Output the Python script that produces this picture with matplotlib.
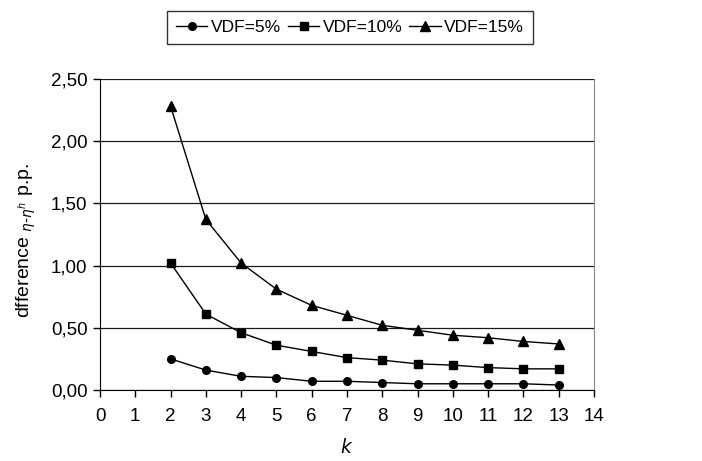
import numpy as np
from matplotlib import pyplot as plt

plt.rcParams['font.family'] = ['Liberation Sans', 'DejaVu Sans']
plt.rcParams['mathtext.fontset'] = 'dejavusans'

k = [2, 3, 4, 5, 6, 7, 8, 9, 10, 11, 12, 13]
vdf5 = [0.25, 0.16, 0.11, 0.10, 0.07, 0.07, 0.06, 0.05, 0.05, 0.05, 0.05, 0.04]
vdf10 = [1.02, 0.61, 0.46, 0.36, 0.31, 0.26, 0.24, 0.21, 0.20, 0.18, 0.17, 0.17]
vdf15 = [2.28, 1.37, 1.02, 0.81, 0.68, 0.60, 0.52, 0.48, 0.44, 0.42, 0.39, 0.37]

yticks = [0.0, 0.5, 1.0, 1.5, 2.0, 2.5]
ytick_labels = ["0,00", "0,50", "1,00", "1,50", "2,00", "2,50"]

fig = plt.figure(figsize=(7.02, 4.61), dpi=100)
ax = fig.add_axes([0.1425, 0.154, 0.7035, 0.675])

ax.plot(k, vdf5, 'k-', marker='o', ms=5.5, lw=1, label="VDF=5%")
ax.plot(k, vdf10, 'k-', marker='s', ms=5.5, lw=1, label="VDF=10%")
ax.plot(k, vdf15, 'k-', marker='^', ms=7, lw=1, label="VDF=15%")

ax.set_xlim(0, 14)
ax.set_ylim(0, 2.5)
ax.set_xticks(range(0, 15))
ax.set_yticks(yticks)
ax.set_yticklabels(ytick_labels)
ax.tick_params(labelsize=13.5, direction='out', length=5, width=1, colors='black')
ax.tick_params(axis='x', pad=8)
ax.tick_params(axis='y', pad=4)
ax.yaxis.grid(True, color='#1a1a1a', lw=0.9)
ax.set_axisbelow(True)
ax.spines['top'].set_visible(False)
ax.spines['right'].set_color('#888888')

ax.set_xlabel("$k$", fontsize=13.5, labelpad=9)
ax.set_ylabel(r"dfference $_{\eta\text{-}\eta^h}$ p.p.", fontsize=14)
ax.yaxis.set_label_coords(-0.125, 0.48)

leg = fig.legend(loc='upper center', bbox_to_anchor=(350 / 702, 1 - 11 / 461), ncol=3,
                 fontsize=12.5, frameon=True, fancybox=False, edgecolor='black',
                 handlelength=1.8, handletextpad=0.2, columnspacing=0.4, borderpad=0.5,
                 borderaxespad=0)
leg.get_frame().set_linewidth(1)

plt.savefig("out.png", dpi=100)
